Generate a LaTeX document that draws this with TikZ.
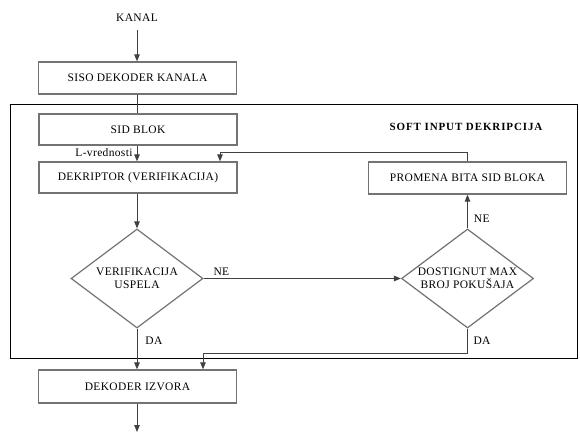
\documentclass[tikz,border=0pt]{standalone}
\usepackage{fontspec}
\setmainfont{Liberation Serif}[LetterSpace=3]
\usetikzlibrary{shapes.geometric,arrows.meta}
\begin{document}
\begin{tikzpicture}[x=1pt,y=-1pt,
  txt/.style={font=\fontsize{11.5}{13}\selectfont, inner sep=0pt},
  box/.style={draw=black!55, line width=1.3pt, minimum width=198pt, minimum height=31pt, inner sep=0pt, txt},
  dia/.style={draw=black!55, line width=1.2pt, shape=diamond, minimum width=132pt, minimum height=99pt, aspect=1.33, inner sep=0pt, align=center, txt},
  conn/.style={draw=black!75, line width=0.9pt},
  arr/.style={conn, -{Triangle[length=7pt,width=5.5pt]}},
  lab/.style={txt}]
\useasboundingbox (0,0) rectangle (580,435);
\fill[white] (0,0) rectangle (580,435);
% frame
\draw[black, line width=1pt] (10,105) rectangle (577,358);
\node[font=\bfseries\fontsize{11}{13}\selectfont, inner sep=0pt] (title) at (466,127) {\addfontfeature{LetterSpace=8}SOFT INPUT DEKRIPCIJA};
% nodes
\node[lab] (kanal) at (137,18) {KANAL};
\coordinate (kin) at (137,30);
\node[box, minimum height=32pt] (siso) at (137.5,78) {SISO DEKODER KANALA};
\node[box] (sid) at (138,129.5) {SID BLOK};
\node[box] (dek) at (138,177.5) {DEKRIPTOR (VERIFIKACIJA)};
\node[dia] (d1) at (137,278.5) {VERIFIKACIJA\\USPELA};
\node[dia] (d2) at (467.5,278.5) {DOSTIGNUT MAX\\BROJ POKUŠAJA};
\node[box, minimum height=32pt] (prom) at (467.5,178) {PROMENA BITA SID BLOKA};
\node[box, minimum height=33pt] (izv) at (137.5,386.5) {DEKODER IZVORA};
\coordinate (out) at (137,432);
\coordinate (fb) at (220,152);
\coordinate (dab) at (203,353);
% connectors
\draw[arr] (kin) -- (kin |- siso.north);
\draw[conn] (siso.south -| kin) -- (sid.north -| kin);
\draw[arr] (sid.south -| kin) -- (dek.north -| kin) node[lab, pos=0.45, left=4pt] {L-vrednosti};
\draw[arr] (dek.south -| kin) -- (d1.north);
\draw[arr] (d1.east) -- (d2.west) node[lab, pos=0.09, above=3pt] {NE};
\draw[arr] (d2.north) -- (prom.south -| d2.north) node[lab, pos=0.3, right=6pt] {NE};
\draw[arr] (prom.north -| d2.north) |- (fb) -- (fb |- dek.north);
\draw[arr] (d1.south) -- (izv.north -| d1.south) node[lab, pos=0.3, right=8pt] {DA};
\draw[arr] (d2.south) |- (dab) -- (dab |- izv.north);
\node[lab] at (482,341) {DA};
\draw[arr] (izv.south -| kin) -- (out);
\end{tikzpicture}
\end{document}
